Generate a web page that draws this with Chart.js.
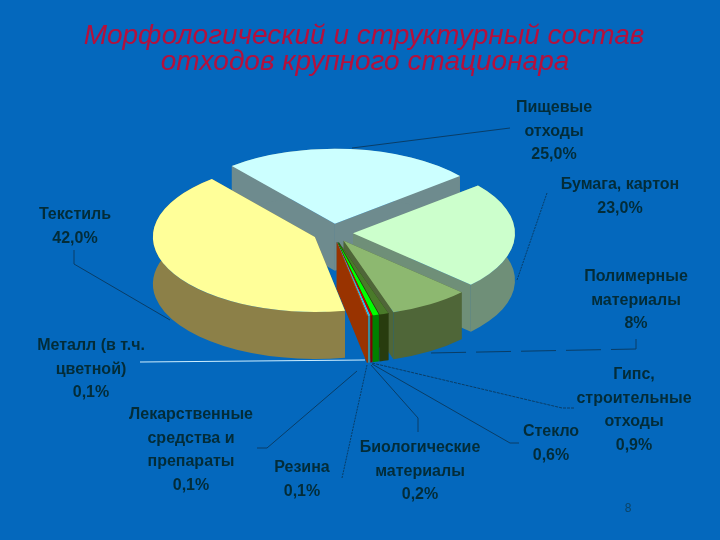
<!DOCTYPE html>
<html>
<head>
<meta charset="utf-8">
<style>
  html, body { margin: 0; padding: 0; background: #0468BD; }
  #wrap { position: relative; width: 720px; height: 540px; }
</style>
<script src="https://cdn.jsdelivr.net/npm/chart.js@4"></script>
</head>
<body>
<div id="wrap"><canvas id="pie" width="720" height="540"></canvas></div>
<script>
const categories = ['Пищевые отходы', 'Бумага, картон', 'Полимерные материалы', 'Гипс, строительные отходы', 'Стекло', 'Биологические материалы', 'Резина', 'Лекарственные средства и препараты', 'Металл (в т.ч. цветной)', 'Текстиль'];
const shares = [25, 23, 8, 0.9, 0.6, 0.2, 0.1, 0.1, 0.1, 42];
const topColors = ['#CCFFFF', '#CCFFCC', '#8DB870', '#4A7A2A', '#00FF00', '#CC0000', '#33CCFF', '#33CCFF', '#CC4400', '#FFFF99'];
const sideColors = ['#6E8B8E', '#6F8F78', '#4F6638', '#283C0E', '#008000', '#800000', '#3A8C9C', '#3A8C9C', '#993300', '#8C8048'];

const titleLines = ['Морфологический и структурный состав', 'отходов крупного стационара'];
const labelLines = [
  ['Пищевые', 'отходы', '25,0%'],
  ['Бумага, картон', '23,0%'],
  ['Полимерные', 'материалы', '8%'],
  ['Гипс,', 'строительные', 'отходы', '0,9%'],
  ['Стекло', '0,6%'],
  ['Биологические', 'материалы', '0,2%'],
  ['Резина', '0,1%'],
  ['Лекарственные', 'средства и', 'препараты', '0,1%'],
  ['Металл (в т.ч.', 'цветной)', '0,1%'],
  ['Текстиль', '42,0%']
];
// center x / first baseline of each label
const labelAnchors = [[554, 112], [620, 189], [636, 281], [634, 379], [551, 436], [420, 452], [302, 472], [191, 419], [91, 350], [75, 219]];
// leader polylines, label to slice
const leaders = [
  { pts: [[510, 128], [352, 148]] },
  { pts: [[547, 193], [517, 280]], dash: [2, 1] },
  { pts: [[636, 339], [636, 349], [430, 353]], dash: [35, 10] },
  { pts: [[574, 408], [562, 408], [372, 363]], dash: [3, 1] },
  { pts: [[519, 443], [510, 443], [372, 364]] },
  { pts: [[418, 432], [418, 418], [371, 365]] },
  { pts: [[342, 478], [367, 365]], dash: [2, 1] },
  { pts: [[257, 448], [267, 448], [357, 371]] },
  { pts: [[140, 362], [365, 360]], color: '#CFEFFF' },
  { pts: [[74, 250], [74, 264], [170, 320]] }
];

const flatten = 0.463;
const explode = 20;
const wallHeight = 47;
// back to front
const drawOrder = [0, 9, 1, 2, 3, 4, 5, 6, 7, 8];

const pie3d = {
  id: 'pie3d',
  beforeDatasetDraw(chart) {
    const ctx = chart.ctx;
    const arcs = chart.getDatasetMeta(0).data;
    drawOrder.forEach(i => {
      const a = arcs[i];
      const mid = (a.startAngle + a.endAngle) / 2;
      const ox = Math.cos(mid) * explode;
      const oy = Math.sin(mid) * explode * flatten;
      // walls, in screen space below the top face
      ctx.save();
      ctx.translate(ox, oy);
      ctx.fillStyle = sideColors[i];
      const yTop = ang => a.y + Math.sin(ang) * a.outerRadius * flatten;
      const xAt = ang => a.x + Math.cos(ang) * a.outerRadius;
      [a.startAngle, a.endAngle].forEach(ang => {
        ctx.beginPath();
        ctx.moveTo(a.x, a.y);
        ctx.lineTo(xAt(ang), yTop(ang));
        ctx.lineTo(xAt(ang), yTop(ang) + wallHeight);
        ctx.lineTo(a.x, a.y + wallHeight);
        ctx.closePath();
        ctx.fill();
      });
      ctx.beginPath();
      ctx.ellipse(a.x, a.y + wallHeight, a.outerRadius, a.outerRadius * flatten, 0, a.startAngle, a.endAngle);
      ctx.lineTo(xAt(a.endAngle), yTop(a.endAngle));
      ctx.ellipse(a.x, a.y, a.outerRadius, a.outerRadius * flatten, 0, a.endAngle, a.startAngle, true);
      ctx.closePath();
      ctx.fill();
      // top face, the library's own arc squeezed to an ellipse
      ctx.translate(a.x, a.y);
      ctx.scale(1, flatten);
      ctx.translate(-a.x, -a.y);
      a.draw(ctx);
      ctx.restore();
    });
    return false;
  },
  afterDatasetsDraw(chart) {
    const ctx = chart.ctx;
    ctx.save();
    ctx.lineWidth = 1;
    leaders.forEach(l => {
      ctx.strokeStyle = l.color || '#0A3D66';
      ctx.setLineDash(l.dash || []);
      ctx.beginPath();
      l.pts.forEach((p, j) => j ? ctx.lineTo(p[0], p[1]) : ctx.moveTo(p[0], p[1]));
      ctx.stroke();
    });
    ctx.setLineDash([]);
    ctx.textAlign = 'center';
    ctx.textBaseline = 'alphabetic';
    ctx.fillStyle = '#032C38';
    ctx.font = 'bold 16px "Liberation Sans"';
    labelLines.forEach((lines, i) => {
      lines.forEach((t, j) => ctx.fillText(t, labelAnchors[i][0], labelAnchors[i][1] + j * 23.5));
    });
    ctx.fillStyle = '#B5103C';
    ctx.font = 'italic 28px "Liberation Sans"';
    ctx.fillText(titleLines[0], 364, 44);
    ctx.fillText(titleLines[1], 365, 70);
    ctx.fillStyle = '#0B4468';
    ctx.font = '12px "Liberation Sans"';
    ctx.fillText('8', 628, 512);
    ctx.restore();
  }
};

new Chart(document.getElementById('pie'), {
  type: 'pie',
  data: {
    labels: categories,
    datasets: [{ data: shares, backgroundColor: topColors, borderWidth: 0 }]
  },
  options: {
    responsive: false,
    animation: false,
    rotation: -39.5,
    layout: { padding: { left: 171, right: 225, top: 71, bottom: 145 } },
    plugins: { legend: { display: false }, tooltip: { enabled: false } }
  },
  plugins: [pie3d]
});
</script>
</body>
</html>
